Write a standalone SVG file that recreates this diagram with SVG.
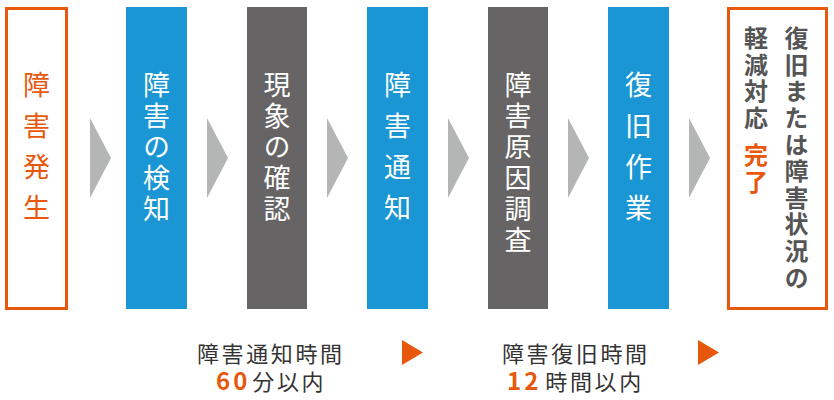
<svg xmlns="http://www.w3.org/2000/svg" width="834" height="400" viewBox="0 0 834 400">
<style>
.v{writing-mode:vertical-rl;font-family:"Noto Sans CJK JP","Noto Sans",sans-serif;font-size:27px;fill:#fff}
.wide{letter-spacing:14px}
.tight{letter-spacing:4px}
.blue{fill:#1b96d4}
.gray{fill:#666465}
.chev{fill:#b4b5b5}
.obox{fill:#fff;stroke:#e8580c;stroke-width:3}
.b7{writing-mode:vertical-rl;font-family:"Noto Sans CJK JP",sans-serif;font-size:24px;font-weight:bold;fill:#555;letter-spacing:2.6px}
.lab{font-family:"Noto Sans CJK JP",sans-serif;font-size:22px;fill:#333;letter-spacing:2.6px}
.num{font-family:"Noto Sans CJK JP",sans-serif;font-size:24px;font-weight:bold;fill:#e8580c;letter-spacing:3px}
.otri{fill:#e8580c}
</style>
<g id="connectors">
<polygon class="chev" points="90,118 111,158 90,198"/>
<polygon class="chev" points="207,118 228,158 207,198"/>
<polygon class="chev" points="327,118 348,158 327,198"/>
<polygon class="chev" points="448,118 469,158 448,198"/>
<polygon class="chev" points="568,118 589,158 568,198"/>
<polygon class="chev" points="689,118 710,158 689,198"/>
</g>
<g id="n1">
<rect class="obox" x="6.5" y="8.5" width="60" height="300"/>
<text class="v wide" x="36.5" y="71" style="fill:#e8580c">障害発生</text>
</g>
<g id="n2">
<rect class="blue" x="126" y="7" width="61" height="302"/>
<text class="v tight" x="156.5" y="71">障害の検知</text>
</g>
<g id="n3">
<rect class="gray" x="247" y="7" width="60" height="302"/>
<text class="v tight" x="277" y="71">現象の確認</text>
</g>
<g id="n4">
<rect class="blue" x="367" y="7" width="61" height="302"/>
<text class="v wide" x="397.5" y="71">障害通知</text>
</g>
<g id="n5">
<rect class="gray" x="488" y="7" width="60" height="302"/>
<text class="v tight" x="518" y="71">障害原因調査</text>
</g>
<g id="n6">
<rect class="blue" x="608" y="7" width="61" height="302"/>
<text class="v wide" x="638.5" y="71">復旧作業</text>
</g>
<g id="n7">
<rect class="obox" x="728.5" y="8.5" width="98" height="300"/>
<text class="b7" x="796.5" y="26">復旧または障害状況の</text>
<text class="b7" x="756" y="26">軽減対応</text>
<text class="b7" x="756" y="143" style="fill:#e8580c">完了</text>
</g>
<g id="t1">
<text class="lab" x="197" y="362">障害通知時間</text>
<text x="216" y="390"><tspan class="num">60</tspan><tspan class="lab" dx="2">分以内</tspan></text>
<polygon class="otri" points="402,340 423,352.5 402,365"/>
</g>
<g id="t2">
<text class="lab" x="502" y="362">障害復旧時間</text>
<text x="507" y="390"><tspan class="num">12</tspan><tspan class="lab" dx="4">時間以内</tspan></text>
<polygon class="otri" points="698,340 719,352.5 698,365"/>
</g>
</svg>
